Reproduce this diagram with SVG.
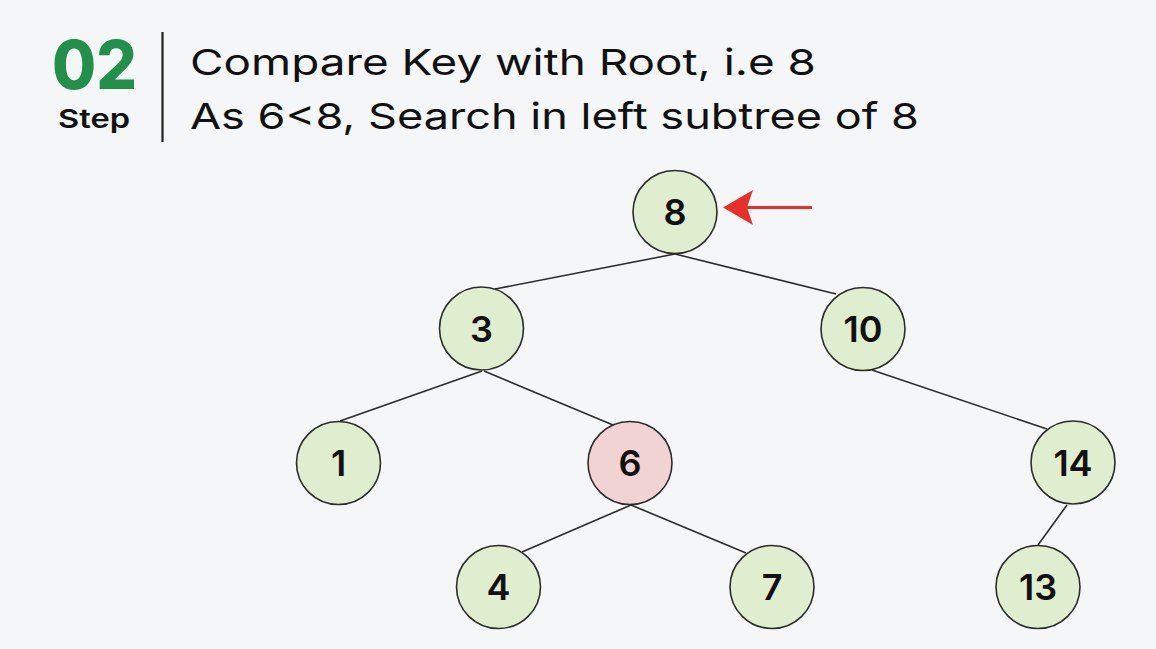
<svg xmlns="http://www.w3.org/2000/svg" width="1156" height="649" viewBox="0 0 1156 649">
<style>
.bg{fill:#f4f6f8}
.edge{stroke:#2b2b2b;stroke-width:1.6;fill:none}
.node{fill:#deeecf;stroke:#2b2b2b;stroke-width:1.6}
.hl{fill:#f2d3d3}
.lbl{font-family:Inter,"Liberation Sans",sans-serif;font-weight:600;font-size:36px;fill:#111;text-anchor:middle}
.hdr{font-family:Inter,"Liberation Sans",sans-serif;font-weight:400;font-size:36px;fill:#111}
</style>
<rect class="bg" x="0" y="0" width="1156" height="649"/>
<g id="header">
<text x="52" y="89" font-family="Inter,'Liberation Sans',sans-serif" font-weight="800" font-size="68" fill="#22904a" textLength="85" lengthAdjust="spacingAndGlyphs">02</text>
<text x="58" y="128" font-family="Inter,'Liberation Sans',sans-serif" font-weight="600" font-size="26" fill="#111" textLength="72" lengthAdjust="spacingAndGlyphs">Step</text>
<line x1="162.5" y1="32" x2="162.5" y2="142" stroke="#222" stroke-width="2.2"/>
<text class="hdr" x="190" y="75" textLength="626" lengthAdjust="spacingAndGlyphs">Compare Key with Root, i.e 8</text>
<text class="hdr" x="190" y="129" textLength="729" lengthAdjust="spacingAndGlyphs">As 6&lt;8, Search in left subtree of 8</text>
</g>
<g id="connectors">
<line class="edge" x1="675" y1="254" x2="495" y2="289"/>
<line class="edge" x1="675" y1="254" x2="836" y2="294"/>
<line class="edge" x1="482" y1="371" x2="340" y2="421"/>
<line class="edge" x1="484" y1="371" x2="613" y2="425"/>
<line class="edge" x1="872" y1="370" x2="1047" y2="429"/>
<line class="edge" x1="631" y1="505" x2="522" y2="552"/>
<line class="edge" x1="631" y1="505" x2="746" y2="553"/>
<line class="edge" x1="1067" y1="505" x2="1038" y2="545"/>
</g>
<g id="pointer">
<line x1="812" y1="207.5" x2="745" y2="207.5" stroke="#e5302b" stroke-width="3"/>
<polygon points="723,207.5 753,190 747,207.5 753,225" fill="#e5302b"/>
</g>
<g id="node-8"><ellipse class="node" cx="675" cy="212" rx="42" ry="41.5"/><text class="lbl" x="675" y="225">8</text></g>
<g id="node-3"><ellipse class="node" cx="481.5" cy="328.5" rx="42" ry="41.5"/><text class="lbl" x="481.5" y="341.5">3</text></g>
<g id="node-10"><ellipse class="node" cx="863" cy="329" rx="42" ry="41.5"/><text class="lbl" x="863" y="342">10</text></g>
<g id="node-1"><ellipse class="node" cx="338.5" cy="463" rx="42" ry="41.5"/><text class="lbl" x="338.5" y="476">1</text></g>
<g id="node-6"><ellipse class="node hl" cx="630" cy="463" rx="42" ry="41.5"/><text class="lbl" x="630" y="476">6</text></g>
<g id="node-14"><ellipse class="node" cx="1073" cy="462.5" rx="42" ry="41.5"/><text class="lbl" x="1073" y="475.5">14</text></g>
<g id="node-4"><ellipse class="node" cx="498.5" cy="587" rx="42" ry="41.5"/><text class="lbl" x="498.5" y="600">4</text></g>
<g id="node-7"><ellipse class="node" cx="772" cy="587" rx="42" ry="41.5"/><text class="lbl" x="772" y="600">7</text></g>
<g id="node-13"><ellipse class="node" cx="1038" cy="587" rx="42" ry="41.5"/><text class="lbl" x="1038" y="600">13</text></g>
</svg>
